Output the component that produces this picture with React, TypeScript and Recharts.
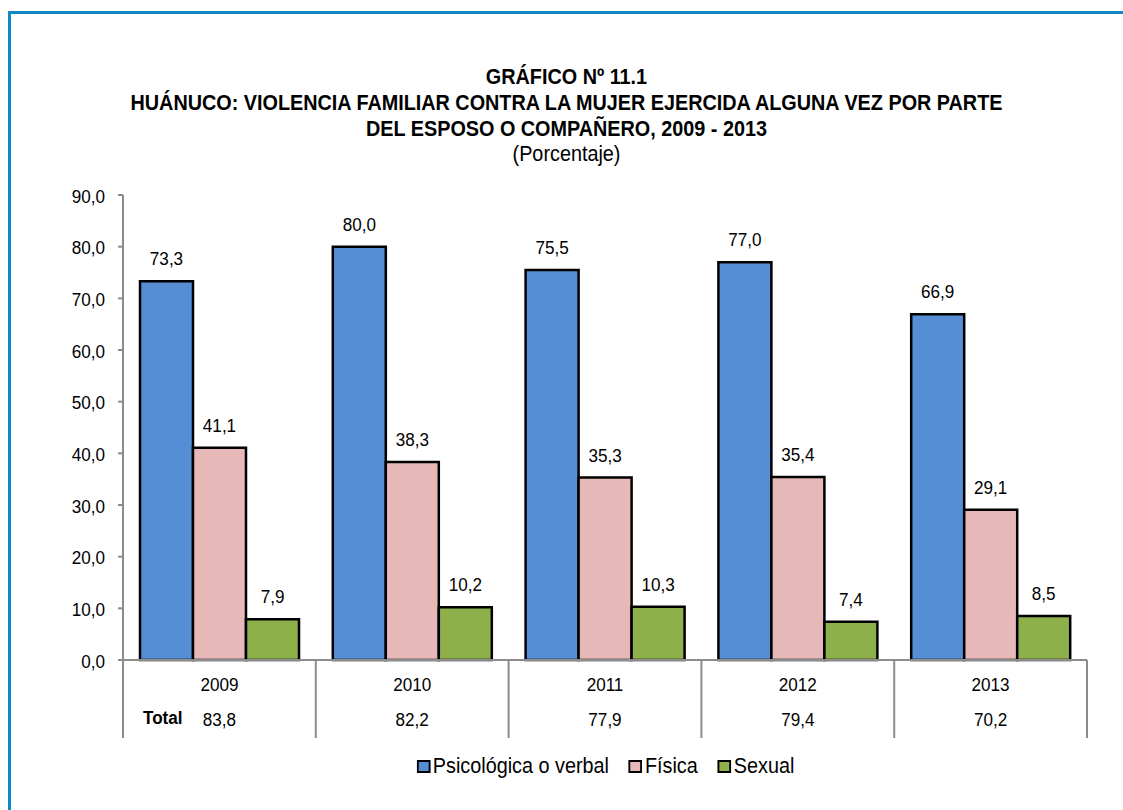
import React from 'react';
import { BarChart, Bar, XAxis, YAxis, LabelList } from 'recharts';

const years = ['2009', '2010', '2011', '2012', '2013'];
const psicologica = [73.3, 80.0, 75.5, 77.0, 66.9];
const fisica = [41.1, 38.3, 35.3, 35.4, 29.1];
const sexual = [7.9, 10.2, 10.3, 7.4, 8.5];
const totals = [83.8, 82.2, 77.9, 79.4, 70.2];
const yTicks = [0, 10, 20, 30, 40, 50, 60, 70, 80, 90];

const titleLines = [
  'GRÁFICO Nº 11.1',
  'HUÁNUCO: VIOLENCIA FAMILIAR CONTRA LA MUJER EJERCIDA ALGUNA VEZ POR PARTE',
  'DEL ESPOSO O COMPAÑERO, 2009 - 2013',
];
const subtitle = '(Porcentaje)';
const totalLabel = 'Total';

const series = [
  { key: 'psicologica', name: 'Psicológica o verbal', color: '#558ED5' },
  { key: 'fisica', name: 'Física', color: '#E6B9B8' },
  { key: 'sexual', name: 'Sexual', color: '#8DB04B' },
];

const data = years.map((y, i) => ({
  year: y,
  psicologica: psicologica[i],
  fisica: fisica[i],
  sexual: sexual[i],
  total: totals[i],
}));

const FONT = "'Liberation Sans', Arial, sans-serif";
const SX = 0.9;
const W = 1123;
const H = 810;
const margin = { top: 195, right: 36, bottom: 60, left: 63 };
const Y_W = 60;
const X_H = 90;
const plotW = W - margin.left - Y_W - margin.right;
const bandW = plotW / years.length;

const fmt = (v: number) => v.toFixed(1).replace('.', ',');

const NText = ({ x, y, anchor = 'middle', size = 19, bold = false, baseline = 'central', children }: any) => (
  <text
    transform={`translate(${x},${y}) scale(${SX},1)`}
    textAnchor={anchor}
    dominantBaseline={baseline}
    fontSize={size}
    fontWeight={bold ? 'bold' : 'normal'}
    fill="#000"
    fontFamily={FONT}
  >
    {children}
  </text>
);

const XTick = (props: any) => {
  const { x, y, payload } = props;
  const i = years.indexOf(payload.value);
  const left = x - bandW / 2;
  const right = x + bandW / 2;
  return (
    <g>
      <line x1={left} y1={y} x2={left} y2={y + 78} stroke="#8C8C8C" strokeWidth={2} />
      {i === years.length - 1 && (
        <line x1={right} y1={y} x2={right} y2={y + 78} stroke="#8C8C8C" strokeWidth={2} />
      )}
      <NText x={x} y={y + 25}>{payload.value}</NText>
      {i === 0 && (
        <NText x={left + 20} y={y + 58} anchor="start" bold>{totalLabel}</NText>
      )}
      <NText x={x} y={y + 60}>{fmt(totals[i])}</NText>
    </g>
  );
};

const YTick = (props: any) => {
  const { x, y, payload } = props;
  return <NText x={x} y={y + 1.5} anchor="end">{fmt(payload.value)}</NText>;
};

const BarLabel = (props: any) => {
  const { x, y, width, value } = props;
  return (
    <NText x={Number(x) + Number(width) / 2} y={Number(y) - 16} baseline="alphabetic">
      {fmt(Number(value))}
    </NText>
  );
};

export default function App() {
  return (
    <div style={{ position: 'absolute', left: 0, top: 0, width: W, height: H, background: '#fff', overflow: 'hidden', fontFamily: FONT }}>
      <div style={{ position: 'absolute', left: 8, top: 11, width: W, height: H, borderTop: '3px solid #0E89C1', borderLeft: '3px solid #0E89C1', boxSizing: 'border-box' }} />
      <div style={{ position: 'absolute', left: 0, top: 64, width: 1133, textAlign: 'center', color: '#000', transform: `scaleX(${SX})`, transformOrigin: '566.5px 0' }}>
        {titleLines.map((t, i) => (
          <div key={i} style={{ fontWeight: 'bold', fontSize: 22, lineHeight: '26px', height: 26, whiteSpace: 'nowrap' }}>{t}</div>
        ))}
        <div style={{ fontSize: 22, lineHeight: '24px', height: 24 }}>{subtitle}</div>
      </div>
      <div style={{ position: 'absolute', left: 0, top: 0 }}>
        <BarChart width={W} height={H} data={data} margin={margin} barCategoryGap={17} barGap={0}>
          <XAxis
            dataKey="year"
            height={X_H}
            axisLine={{ stroke: '#8C8C8C', strokeWidth: 2 }}
            tickLine={false}
            tickSize={0}
            tickMargin={0}
            interval={0}
            tick={<XTick />}
          />
          <YAxis
            width={Y_W}
            domain={[0, 90]}
            ticks={yTicks}
            interval={0}
            axisLine={{ stroke: '#8C8C8C', strokeWidth: 2 }}
            tickLine={{ stroke: '#8C8C8C', strokeWidth: 2 }}
            tickSize={5}
            tickMargin={13}
            tick={<YTick />}
          />
          {series.map((s) => (
            <Bar key={s.key} dataKey={s.key} name={s.name} fill={s.color} stroke="#000" strokeWidth={2.5} isAnimationActive={false}>
              <LabelList dataKey={s.key} content={<BarLabel />} />
            </Bar>
          ))}
        </BarChart>
      </div>
      <div style={{ position: 'absolute', left: 0, top: 753, width: 1211, display: 'flex', justifyContent: 'center', alignItems: 'center', fontSize: 22, lineHeight: '26px', color: '#000', transform: `scaleX(${SX})`, transformOrigin: '605.5px 0' }}>
        {series.map((s, i) => (
          <div key={s.key} style={{ display: 'flex', alignItems: 'center', marginRight: i < series.length - 1 ? 22 : 0 }}>
            <span style={{ display: 'inline-block', width: 11, height: 9, background: s.color, border: '2.5px solid #000', marginRight: 3 }} />
            <span>{s.name}</span>
          </div>
        ))}
      </div>
    </div>
  );
}
